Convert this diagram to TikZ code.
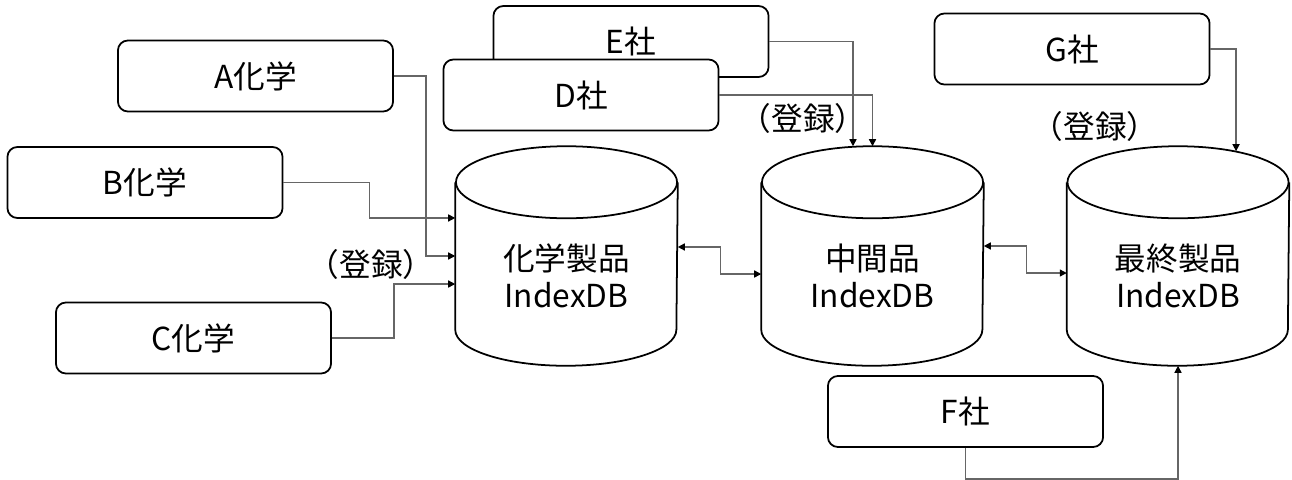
\documentclass[tikz,border=0pt]{standalone}
\usepackage{fontspec}
\setmainfont{Noto Sans CJK JP}
\usetikzlibrary{arrows.meta}

\begin{document}
\begin{tikzpicture}[x=0.01cm,y=-0.01cm,
    >={Triangle[length=0.07cm,width=0.07cm,color=black]},
    every node/.style={font=\fontsize{9pt}{10.5pt}\selectfont},
    firm/.style={draw,line width=0.5pt,rounded corners=0.1cm,fill=white,minimum width=2.75cm,minimum height=0.71cm,inner sep=0pt},
    db/.style={minimum width=2.21cm,minimum height=2.18cm,inner sep=0pt},
    dbtext/.style={align=center},
    conn/.style={draw=black!60,line width=0.4pt}]
  \useasboundingbox (0,0) rectangle (1292,479);
  \node[db] (c1) at (566.5,256) {};
  \node[db] (c2) at (872.5,256) {};
  \node[db] (c3) at (1178,256) {};
  \foreach \n in {c1,c2,c3}{
    \draw[line width=0.5pt] ([yshift=-0.36cm]\n.north) ellipse (1.105cm and 0.36cm);
    \draw[line width=0.5pt] ([yshift=-0.36cm]\n.north west) -- ([yshift=0.36cm]\n.south west)
      arc(180:360:1.105cm and 0.36cm) -- ([yshift=-0.36cm]\n.north east);
  }
  \node[dbtext] (t1) at ([yshift=-0.2cm]c1.center) {化学製品\\IndexDB};
  \node[dbtext] (t2) at ([yshift=-0.2cm]c2.center) {中間品\\IndexDB};
  \node[dbtext] (t3) at ([yshift=-0.2cm]c3.center) {最終製品\\IndexDB};
  \node[firm] (A) at (255.5,76) {A化学};
  \node[firm] (B) at (145,182.5) {B化学};
  \node[firm] (C) at (193.5,338) {C化学};
  \node[firm] (E) at (631,41.5) {E社};
  \node[firm] (D) at (581,95) {D社};
  \node[firm] (G) at (1072,49) {G社};
  \node[firm] (F) at (965.5,411.5) {F社};
  \node (reg1) at (371,264) {（登録）};
  \node (reg2) at (803,118) {（登録）};
  \node (reg3) at (1095,126) {（登録）};
  \draw[conn,->] (A.east) -- ++(32,0) |- (c1.west);
  \draw[conn,->] (B.east) -- ++(86,0) |- ([yshift=0.38cm]c1.west);
  \draw[conn,->] (C.east) -- ++(62,0) |- ([yshift=-0.28cm]c1.west);
  \draw[conn,<->] ([yshift=0.09cm]c1.east) -- ++(43,0) |- ([yshift=-0.18cm]c2.west);
  \draw[conn,<->] ([yshift=0.1cm]c2.east) -- ++(43,0) |- ([yshift=-0.17cm]c3.west);
  \draw[conn,->] (E.east) -| ([xshift=-0.195cm]c2.north);
  \draw[conn,->] (D.east) -| (c2.north);
  \draw[conn,->] (G.east) -| ([xshift=0.58cm,yshift=-0.05cm]c3.north);
  \draw[conn,->] (F.south) -- ++(0,31) -| (c3.south);
\end{tikzpicture}
\end{document}
